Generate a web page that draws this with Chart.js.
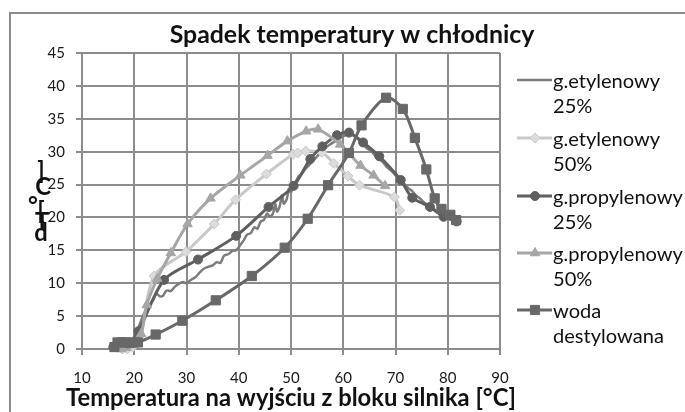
<!DOCTYPE html>
<html>
<head>
<meta charset="utf-8">
<script src="https://cdn.jsdelivr.net/npm/chart.js@4.4.1/dist/chart.umd.min.js"></script>
<style>
  html, body { margin: 0; padding: 0; background: #ffffff; }
  canvas { display: block; }
</style>
</head>
<body>
<canvas id="c" width="685" height="412"></canvas>
<script>
// ---- Text ----
const chartTitle = 'Spadek temperatury w chłodnicy';
const xTitle = 'Temperatura na wyjściu z bloku silnika [°C]';
const yTitleChars = ['d', 'T', '[', '°', 'C', ']']; // stacked from bottom to top
const seriesNames = [
  ['g.etylenowy', '25%'],
  ['g.etylenowy', '50%'],
  ['g.propylenowy', '25%'],
  ['g.propylenowy', '50%'],
  ['woda', 'destylowana']
];
const xTicks = [10, 20, 30, 40, 50, 60, 70, 80, 90];
const yTicks = [0, 5, 10, 15, 20, 25, 30, 35, 40, 45];

// ---- Data ----
const eth25X = [16.2,16.8,17.5,18.3,19.0,19.8,20.5,21.3,22.0,22.8,23.5,24.3,24.9,25.5,26.2,27.0,27.7,28.5,29.3,30.0,30.8,31.7,32.5,33.3,34.2,35.0,35.8,36.5,37.2,38.0,38.8,39.5,40.3,41.0,41.6,42.3,43.0,43.6,44.2,44.8,45.4,45.9,46.5,47.0,47.3,47.8,48.3,48.6,49.2,49.6,50.0,50.5,51.0,51.5,52.0,52.8,53.5,54.2,55.0,55.8,56.6,57.5,58.5,59.5,60.5,61.3,62.0,62.8,63.6,64.4,65.2,66.0,66.8,67.6,68.4,69.2,70.0,70.8,71.6,72.4,73.2,74.0,74.8,75.6,76.4,77.2,78.0,78.8,79.6,80.4,81.2,81.8];
const eth25Y = [0.2,0.5,0.7,0.6,0.8,1.2,2.6,4.3,5.6,6.6,7.3,8.4,8.0,8.1,8.9,8.8,9.4,9.9,10.2,10.0,10.5,10.9,11.6,12.2,12.5,12.7,13.2,13.1,14.2,14.4,14.9,15.0,15.8,16.6,17.4,17.6,18.5,18.3,19.4,19.6,20.6,20.2,20.5,22.0,20.9,21.6,23.4,22.1,22.8,24.4,23.8,25.1,25.6,26.3,26.6,27.4,28.0,28.6,29.3,29.9,30.6,31.1,31.6,32.1,32.5,32.7,32.4,31.9,31.3,30.6,30.2,29.5,28.9,28.4,27.6,27.1,26.4,25.9,25.2,24.5,24.0,23.3,22.8,22.2,21.8,21.3,20.9,20.6,20.2,20.0,19.8,19.5];

const eth50X = [17.7,18.7,19.7,21.2,23.8,29.9,35.3,39.4,45.3,50.4,51.3,52.8,55.9,58.2,60.9,63.1,69.8,70.8];
const eth50Y = [0.0,0.0,0.3,2.0,11.1,14.8,19.0,22.7,26.6,29.6,29.8,30.1,29.9,28.2,26.3,24.9,23.1,21.1];

const prop25X = [16.0,17.0,18.0,19.0,20.8,25.7,32.2,39.5,45.7,50.5,53.7,56.0,58.8,61.1,63.8,66.9,71.0,73.2,76.6,79.2,81.7];
const prop25Y = [0.3,0.8,1.0,1.0,2.7,10.5,13.6,17.2,21.6,24.8,28.9,30.8,32.5,32.9,31.4,29.3,25.7,23.0,21.6,20.1,19.4];

const prop50X = [17.5,18.5,19.8,21.3,22.4,24.4,27.0,30.2,34.6,40.3,45.5,49.3,52.9,55.2,59.4,63.3,65.8,68.0];
const prop50Y = [0.0,0.2,1.0,2.3,6.7,10.7,14.6,19.0,22.9,26.4,29.4,31.6,33.1,33.4,31.1,27.9,26.4,24.8];

const wodaX = [16.2,16.8,17.6,18.4,19.2,20.0,20.7,24.1,29.2,35.6,42.5,48.8,53.2,57.1,61.1,63.5,68.2,71.4,73.7,75.9,77.5,78.8,80.5,81.6];
const wodaY = [0.3,1.0,1.0,1.0,0.9,1.0,1.0,2.2,4.3,7.4,11.1,15.4,19.8,24.9,29.8,34.0,38.2,36.5,32.1,27.3,22.9,21.3,20.4,19.6];

function pts(xs, ys) { return xs.map((x, i) => ({ x: x, y: ys[i] })); }

const FONT = 'Lato, "Open Sans", sans-serif';
const GRID = '#8c8c8c';

const styles = [
  { color: '#7c7c7c', fill: '#7c7c7c', pointStyle: false, radius: 0, width: 2.5, order: 4 },
  { color: '#c9c9c9', fill: '#dcdcdc', pointStyle: 'rectRot', radius: 5, width: 3, order: 3 },
  { color: '#5f5f5f', fill: '#5f5f5f', pointStyle: 'circle', radius: 4.5, width: 3, order: 2 },
  { color: '#a6a6a6', fill: '#a6a6a6', pointStyle: 'triangle', radius: 5.5, width: 3, order: 1 },
  { color: '#686868', fill: '#686868', pointStyle: 'rect', radius: 6.5, width: 3, order: 0 }
];
const seriesData = [pts(eth25X, eth25Y), pts(eth50X, eth50Y), pts(prop25X, prop25Y), pts(prop50X, prop50Y), pts(wodaX, wodaY)];

const datasets = seriesData.map((d, i) => ({
  label: seriesNames[i].join(' '),
  data: d,
  showLine: true,
  tension: 0.3,
  borderColor: styles[i].color,
  backgroundColor: styles[i].fill,
  pointBackgroundColor: styles[i].fill,
  pointBorderColor: styles[i].color,
  pointBorderWidth: 1,
  pointStyle: styles[i].pointStyle,
  pointRadius: styles[i].radius,
  borderWidth: styles[i].width,
  order: styles[i].order,
  clip: false
}));

function fitSize(ctx, text, weight, target) {
  ctx.font = weight + ' 100px ' + FONT;
  return 100 * target / ctx.measureText(text).width;
}

const decor = {
  id: 'decor',
  afterDraw(chart) {
    const ctx = chart.ctx;
    ctx.save();
    // outer frame
    ctx.strokeStyle = '#8a8a8a';
    ctx.lineWidth = 2;
    ctx.beginPath();
    ctx.moveTo(10, 412);
    ctx.lineTo(10, 13);
    ctx.lineTo(685, 13);
    ctx.stroke();

    ctx.fillStyle = '#111111';
    // chart title
    let s = fitSize(ctx, chartTitle, 'bold', 365);
    ctx.font = 'bold ' + s + 'px ' + FONT;
    ctx.textAlign = 'center';
    ctx.textBaseline = 'middle';
    ctx.fillText(chartTitle, 352, 35);

    // x axis title
    const sx = fitSize(ctx, xTitle, 'bold', 450);
    ctx.font = 'bold ' + sx + 'px ' + FONT;
    ctx.fillText(xTitle, 291, 398);

    // y axis title (stacked glyphs, bottom to top)
    const yPos = [[41, 233], [42, 222], [41, 211], [33, 206], [43, 187], [41, 171]];
    ctx.font = 'bold ' + sx + 'px ' + FONT;
    yTitleChars.forEach((ch, i) => {
      ctx.fillText(ch, yPos[i][0], yPos[i][1]);
    });

    // legend
    const ls = fitSize(ctx, 'g.propylenowy', 'normal', 130);
    ctx.font = ls + 'px ' + FONT;
    ctx.textAlign = 'left';
    const rowY = [80, 138, 196, 253, 310];
    seriesNames.forEach((lines, i) => {
      const y = rowY[i];
      const st = styles[i];
      ctx.strokeStyle = st.color;
      ctx.lineWidth = st.width;
      ctx.beginPath();
      ctx.moveTo(517, y);
      ctx.lineTo(552, y);
      ctx.stroke();
      if (st.pointStyle) {
        ctx.fillStyle = st.fill;
        ctx.strokeStyle = st.color;
        ctx.lineWidth = 1;
        Chart.helpers.drawPoint(ctx, { pointStyle: st.pointStyle, radius: st.radius, rotation: 0, borderWidth: 1 }, 535, y);
      }
      ctx.fillStyle = '#111111';
      ctx.textBaseline = 'middle';
      ctx.fillText(lines[0], 553, y + 2);
      ctx.fillText(lines[1], 553, y + 27);
    });
    ctx.restore();
  }
};

new Chart(document.getElementById('c'), {
  type: 'scatter',
  data: { datasets: datasets },
  options: {
    responsive: false,
    animation: false,
    events: [],
    layout: { padding: { left: 10, top: 53, right: 185, bottom: 0 } },
    plugins: { legend: { display: false }, title: { display: false }, tooltip: { enabled: false } },
    scales: {
      x: {
        type: 'linear',
        min: xTicks[0], max: xTicks[xTicks.length - 1],
        afterBuildTicks: (sc) => { sc.ticks = xTicks.map(v => ({ value: v })); },
        afterFit: (sc) => { sc.height = 63; },
        ticks: { font: { family: FONT, size: 15 }, color: '#1a1a1a', padding: 14, maxRotation: 0 },
        grid: { color: GRID, lineWidth: 2, tickLength: 6, tickColor: GRID, tickWidth: 2 },
        border: { color: GRID, width: 2 }
      },
      y: {
        type: 'linear',
        min: yTicks[0], max: yTicks[yTicks.length - 1],
        afterBuildTicks: (sc) => { sc.ticks = yTicks.map(v => ({ value: v })); },
        afterFit: (sc) => { sc.width = 72; },
        ticks: { font: { family: FONT, size: 15 }, color: '#1a1a1a', padding: 11 },
        grid: { color: GRID, lineWidth: 2, tickLength: 6, tickColor: GRID, tickWidth: 2 },
        border: { color: GRID, width: 2 }
      }
    }
  },
  plugins: [decor]
});
</script>
</body>
</html>
